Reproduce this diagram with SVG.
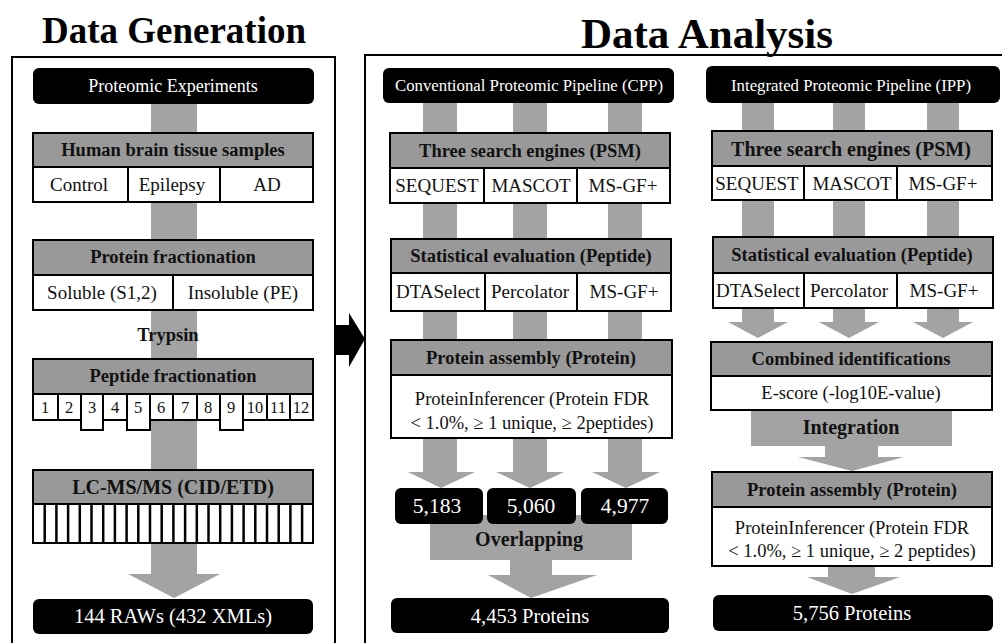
<svg xmlns="http://www.w3.org/2000/svg" width="1002" height="643" viewBox="0 0 1002 643">
<style>
.frame{fill:none;stroke:#000;stroke-width:2}
.hdr{fill:#999;stroke:#000;stroke-width:2}
.cell{fill:#fff;stroke:#000;stroke-width:2}
.blk{fill:#000}
.arr{fill:#a3a3a3}
text{font-family:"Liberation Serif","Times New Roman",serif;text-anchor:middle}
.title{font-size:37px;font-weight:bold;fill:#000}
.tb{font-size:18.5px;font-weight:bold;fill:#111}
.tr{font-size:19px;fill:#111}
.tw{font-size:18px;fill:#fff}
.tn{font-size:20.5px;fill:#fff}
.num{font-size:16.5px;fill:#111}
</style>
<rect width="1002" height="643" fill="#fff"/>
<text class="title" x="174" y="43">Data Generation</text>
<text class="title" x="707" y="48" style="font-size:43px">Data Analysis</text>
<path class="frame" d="M12,643 V57 H335 V643"/>
<path class="frame" d="M365,643 V55 H1002"/>
<g id="connectors">
<path class="arr" d="M151,104 H197 V574 H220 L174,598 L128,574 H151 Z"/>
<path class="blk" d="M336,325 H349 V313 L365,339 L349,367 V355 H336 Z"/>
<path class="arr" d="M423,103 H457 V472 H475 L441,488 L408,472 H423 Z"/>
<path class="arr" d="M513,103 H547 V472 H564 L530,488 L496,472 H513 Z"/>
<path class="arr" d="M608,103 H642 V472 H660 L626,488 L592,472 H608 Z"/>
<path class="arr" d="M430,515 H632 V560 H552 V575 H597 L531,598 L488,575 H510 V560 H430 Z"/>
<path class="arr" d="M742,103 H774 V322 H788 L758,338 L728,322 H742 Z"/>
<path class="arr" d="M833,103 H865 V322 H879 L849,338 L819,322 H833 Z"/>
<path class="arr" d="M927,103 H959 V322 H973 L943,338 L913,322 H927 Z"/>
<path class="arr" d="M751,405 H952 V446 H878 V457 H904 L852,471 L798,457 H825 V446 H751 Z"/>
<path class="arr" d="M828,562 H875 V577 H900 L852,594 L807,577 H828 Z"/>
</g>
<g id="proteomic-experiments">
<rect class="blk" x="33" y="68" width="281" height="36" rx="6"/>
<text class="tw" x="173" y="92">Proteomic Experiments</text>
</g>
<g id="human-brain">
<rect class="hdr" x="33" y="133" width="280" height="34"/>
<text class="tb" x="173" y="156">Human brain tissue samples</text>
<rect class="cell" x="33" y="167" width="95" height="35"/>
<rect class="cell" x="128" y="167" width="92" height="35"/>
<rect class="cell" x="220" y="167" width="93" height="35"/>
<text class="tr" x="79" y="191">Control</text>
<text class="tr" x="172" y="191">Epilepsy</text>
<text class="tr" x="267" y="191">AD</text>
</g>
<g id="protein-fractionation">
<rect class="hdr" x="33" y="240" width="280" height="35"/>
<text class="tb" x="173" y="263">Protein fractionation</text>
<rect class="cell" x="33" y="275" width="140" height="35"/>
<rect class="cell" x="173" y="275" width="140" height="35"/>
<text class="tr" x="102" y="299">Soluble (S1,2)</text>
<text class="tr" x="243" y="299">Insoluble (PE)</text>
</g>
<g id="trypsin"><text class="tb" x="168" y="341">Trypsin</text></g>
<g id="peptide-fractionation">
<rect class="hdr" x="33" y="359" width="280" height="35"/>
<text class="tb" x="173" y="382">Peptide fractionation</text>
<rect class="cell" x="33" y="394" width="25" height="26"/>
<rect class="cell" x="58" y="394" width="23" height="26"/>
<rect class="cell" x="81" y="394" width="22" height="36"/>
<rect class="cell" x="103" y="394" width="24" height="26"/>
<rect class="cell" x="127" y="394" width="23" height="36"/>
<rect class="cell" x="150" y="394" width="23" height="26"/>
<rect class="cell" x="173" y="394" width="24" height="26"/>
<rect class="cell" x="197" y="394" width="23" height="26"/>
<rect class="cell" x="220" y="394" width="23" height="36"/>
<rect class="cell" x="243" y="394" width="24" height="26"/>
<rect class="cell" x="267" y="394" width="23" height="26"/>
<rect class="cell" x="290" y="394" width="23" height="26"/>
<text class="num" x="45" y="413">1</text>
<text class="num" x="69" y="413">2</text>
<text class="num" x="92" y="413">3</text>
<text class="num" x="115" y="413">4</text>
<text class="num" x="138" y="413">5</text>
<text class="num" x="161" y="413">6</text>
<text class="num" x="185" y="413">7</text>
<text class="num" x="208" y="413">8</text>
<text class="num" x="231" y="413">9</text>
<text class="num" x="255" y="413">10</text>
<text class="num" x="278" y="413">11</text>
<text class="num" x="301" y="413">12</text>
</g>
<g id="lc-msms">
<rect class="hdr" x="33" y="470" width="280" height="34"/>
<text class="tb" x="173" y="494" style="font-size:20px">LC-MS/MS (CID/ETD)</text>
<rect class="cell" x="33" y="504" width="280" height="39"/>
<path d="M44.7,504V543M56.4,504V543M68.1,504V543M79.8,504V543M91.5,504V543M103.2,504V543M114.9,504V543M126.6,504V543M138.3,504V543M150,504V543M161.7,504V543M173.4,504V543M185.1,504V543M196.8,504V543M208.5,504V543M220.2,504V543M231.9,504V543M243.6,504V543M255.3,504V543M267,504V543M278.7,504V543M290.4,504V543M302.1,504V543" stroke="#000" stroke-width="2.5"/>
</g>
<g id="raws">
<rect class="blk" x="33" y="599" width="280" height="35" rx="6"/>
<text class="tn" x="173" y="623">144 RAWs (432 XMLs)</text>
</g>
<g id="cpp">
<rect class="blk" x="383" y="68" width="291" height="35" rx="6"/>
<text class="tw" x="529" y="91" style="font-size:16.8px">Conventional Proteomic Pipeline (CPP)</text>
</g>
<g id="cpp-search">
<rect class="hdr" x="390" y="133" width="280" height="35"/>
<text class="tb" x="530" y="157">Three search engines (PSM)</text>
<rect class="cell" x="390" y="168" width="94" height="35"/>
<rect class="cell" x="484" y="168" width="93" height="35"/>
<rect class="cell" x="577" y="168" width="93" height="35"/>
<text class="tr" x="437" y="192">SEQUEST</text>
<text class="tr" x="531" y="192">MASCOT</text>
<text class="tr" x="623" y="192">MS-GF+</text>
</g>
<g id="cpp-stat">
<rect class="hdr" x="391" y="239" width="280" height="34"/>
<text class="tb" x="531" y="262">Statistical evaluation (Peptide)</text>
<rect class="cell" x="391" y="273" width="94" height="38"/>
<rect class="cell" x="485" y="273" width="92" height="38"/>
<rect class="cell" x="577" y="273" width="94" height="38"/>
<text class="tr" x="438" y="298">DTASelect</text>
<text class="tr" x="530" y="298">Percolator</text>
<text class="tr" x="624" y="298">MS-GF+</text>
</g>
<g id="cpp-assembly">
<rect class="hdr" x="391" y="340" width="281" height="35"/>
<text class="tb" x="531" y="364">Protein assembly (Protein)</text>
<rect class="cell" x="391" y="375" width="281" height="63"/>
<text class="tr" x="532" y="405" style="font-size:18.5px">ProteinInferencer  (Protein FDR</text>
<text class="tr" x="532" y="429" style="font-size:18.5px">&lt; 1.0%,  ≥ 1 unique, ≥ 2peptides)</text>
</g>
<g id="n5183"><rect class="blk" x="395" y="488" width="88" height="36" rx="6"/><text class="tn" x="437" y="513" style="font-size:21.5px">5,183</text></g>
<g id="n5060"><rect class="blk" x="487" y="488" width="89" height="36" rx="6"/><text class="tn" x="531" y="513" style="font-size:21.5px">5,060</text></g>
<g id="n4977"><rect class="blk" x="581" y="488" width="87" height="36" rx="6"/><text class="tn" x="625" y="513" style="font-size:21.5px">4,977</text></g>
<g id="overlapping"><text class="tb" x="529" y="546" style="font-size:20px">Overlapping</text></g>
<g id="p4453"><rect class="blk" x="391" y="598" width="278" height="35" rx="6"/><text class="tn" x="530" y="623">4,453 Proteins</text></g>
<g id="ipp">
<rect class="blk" x="706" y="66" width="294" height="37" rx="6"/>
<text class="tw" x="851" y="91" style="font-size:16.8px">Integrated Proteomic Pipeline (IPP)</text>
</g>
<g id="ipp-search">
<rect class="hdr" x="712" y="131" width="280" height="35"/>
<text class="tb" x="851" y="156" style="font-size:20px">Three search engines (PSM)</text>
<rect class="cell" x="712" y="166" width="92" height="34"/>
<rect class="cell" x="804" y="166" width="93" height="34"/>
<rect class="cell" x="897" y="166" width="95" height="34"/>
<text class="tr" x="757" y="190">SEQUEST</text>
<text class="tr" x="852" y="190">MASCOT</text>
<text class="tr" x="943" y="190">MS-GF+</text>
</g>
<g id="ipp-stat">
<rect class="hdr" x="713" y="237" width="280" height="36"/>
<text class="tb" x="852" y="261">Statistical evaluation (Peptide)</text>
<rect class="cell" x="713" y="273" width="91" height="35"/>
<rect class="cell" x="804" y="273" width="93" height="35"/>
<rect class="cell" x="897" y="273" width="96" height="35"/>
<text class="tr" x="758" y="297">DTASelect</text>
<text class="tr" x="849" y="297">Percolator</text>
<text class="tr" x="944" y="297">MS-GF+</text>
</g>
<g id="combined">
<rect class="hdr" x="711" y="342" width="281" height="34"/>
<text class="tb" x="851" y="365">Combined identifications</text>
<rect class="cell" x="711" y="376" width="281" height="34"/>
<text class="tr" x="851" y="399" style="font-size:18.5px">E-score (-log10E-value)</text>
</g>
<g id="integration"><text class="tb" x="851" y="434" style="font-size:20px">Integration</text></g>
<g id="ipp-assembly">
<rect class="hdr" x="712" y="472" width="280" height="35"/>
<text class="tb" x="852" y="496">Protein assembly (Protein)</text>
<rect class="cell" x="712" y="507" width="280" height="59"/>
<text class="tr" x="852" y="534" style="font-size:18.5px">ProteinInferencer  (Protein FDR</text>
<text class="tr" x="852" y="557" style="font-size:18.5px">&lt; 1.0%,  ≥ 1 unique, ≥ 2 peptides)</text>
</g>
<g id="p5756"><rect class="blk" x="713" y="595" width="280" height="36" rx="6"/><text class="tn" x="852" y="620">5,756 Proteins</text></g>
</svg>
